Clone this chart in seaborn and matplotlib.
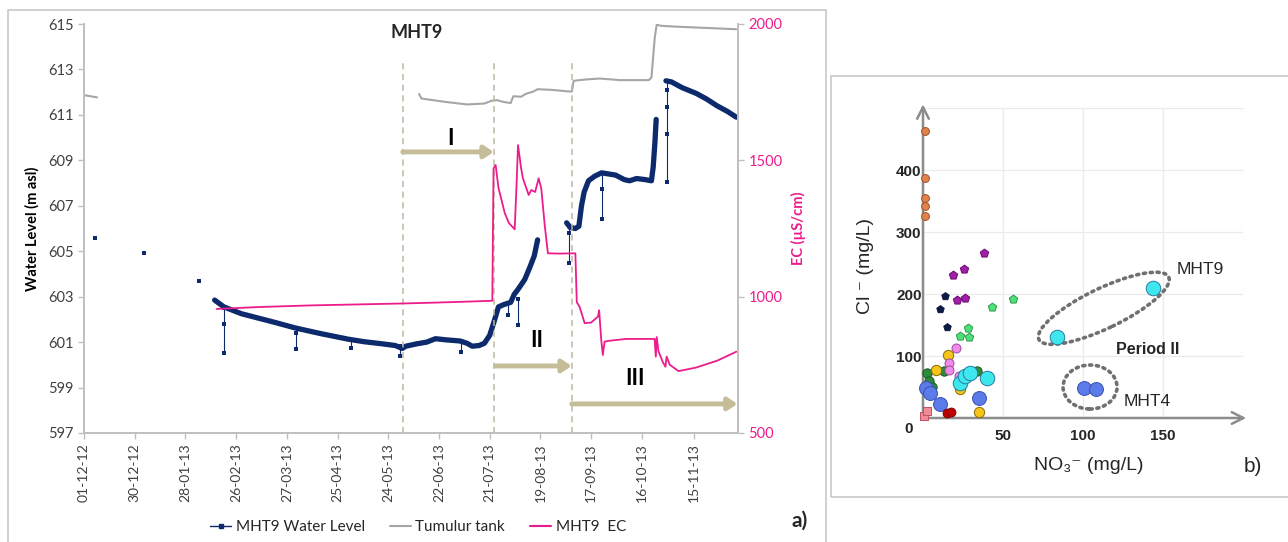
import matplotlib
matplotlib.use("Agg")
import numpy as np
import pandas as pd
import matplotlib.pyplot as plt
from matplotlib.patches import Rectangle, Ellipse
from matplotlib.lines import Line2D
from matplotlib.transforms import ScaledTranslation
import seaborn as sns

sns.set_theme(style="white")
plt.rcParams["font.family"] = ["Lato", "DejaVu Sans"]
plt.rcParams["mathtext.default"] = "regular"

START = pd.Timestamp("2012-12-01")


def to_dates(days):
    return START + pd.to_timedelta(np.asarray(days, dtype=float), unit="D")


# ---------------- Panel a data (days after 01-12-2012) ----------------
wl_manual_days = [6.4, 34.3, 66.0]
wl_manual_vals = [605.6, 604.9, 603.7]

wl_seg1_days = [74.7, 80, 90, 100, 110, 121, 135, 151, 160, 171, 178, 182, 184,
                190, 196, 201, 207, 215, 219, 222, 226, 229, 232, 234.5, 237,
                240, 244, 246, 248, 252, 255, 257.5, 259.4]
wl_seg1_vals = [602.85, 602.55, 602.25, 602.05, 601.85, 601.62, 601.38, 601.13,
                601.02, 600.92, 600.85, 600.72, 600.82, 600.92, 601.0, 601.15,
                601.1, 601.05, 600.95, 600.82, 600.85, 600.95, 601.3, 601.9,
                602.55, 602.65, 602.75, 603.1, 603.3, 603.75, 604.3, 604.8, 605.5]

wl_seg2_days = [276, 278, 281, 283, 284.5, 286, 288.5, 292, 296, 300, 304, 309,
                312, 316, 321, 324.5, 325.5, 326.5, 327.2]
wl_seg2_vals = [606.25, 606.05, 606.0, 606.1, 607.0, 607.6, 608.1, 608.3, 608.45,
                608.4, 608.35, 608.15, 608.1, 608.2, 608.15, 608.1, 608.7, 609.8, 610.8]

wl_seg3_days = [332.8, 336, 342, 350, 356, 362, 368, 373]
wl_seg3_vals = [612.5, 612.45, 612.2, 611.95, 611.7, 611.4, 611.15, 610.9]

spike_days = [80.3, 121.3, 152.8, 180.5, 215.7, 242.5, 248.3, 277.4, 296.0, 333.6]
spike_top = [602.5, 601.6, 601.1, 600.85, 601.05, 602.7, 602.9, 606.1, 608.45, 612.5]
spike_bottom = [600.5, 600.7, 600.75, 600.4, 600.55, 602.2, 601.75, 604.5, 606.4, 608.05]
spike_mid_days = [80.3, 121.3, 277.4, 296.0, 333.6, 333.6, 333.6]
spike_mid_vals = [601.8, 601.4, 605.8, 607.75, 611.35, 610.15, 612.1]

tank_segA_days = [0, 7.5]
tank_segA_vals = [611.87, 611.77]
tank_segB_days = [191.6, 193, 206.8, 219, 229, 233, 236, 240, 244, 245.5, 250,
                  252.5, 257, 259.4, 267.7, 277.4, 279, 280, 287, 295, 306.5, 323,
                  324.5, 326.4, 327.5, 330, 339.7, 373]
tank_segB_vals = [611.92, 611.72, 611.57, 611.46, 611.5, 611.62, 611.65, 611.57,
                  611.52, 611.82, 611.8, 611.92, 612.03, 612.13, 612.1, 612.03,
                  612.03, 612.5, 612.56, 612.6, 612.53, 612.53, 612.64, 614.4,
                  614.97, 614.92, 614.88, 614.77]

ec_days = [75.9, 100, 130, 160, 182, 200, 220, 233.5, 234.2, 235.4, 237, 240.6,
           243, 246.3, 247.3, 248.2, 250, 251, 254.3, 255.8, 258, 260, 261.5,
           263.5, 265.3, 272, 281.0, 281.8, 283.4, 286.3, 290, 293.9, 294.6,
           295.8, 296.7, 297.7, 300, 310, 326.3, 327.0, 327.5, 328.5, 331, 332.5,
           333.2, 335, 340, 350, 362, 373]
ec_vals = [955, 962, 968, 972, 975, 978, 982, 985, 1470, 1483, 1400, 1307,
           1270, 1247, 1400, 1556, 1470, 1434, 1373, 1391, 1384, 1434, 1397,
           1260, 1159, 1158, 1159, 980, 963, 903, 905, 927, 950, 841, 786, 835,
           838, 845, 845, 780, 852, 800, 760, 743, 780, 750, 727, 740, 765, 798]

period_bounds = [182.3, 234.3, 278.9]
period_arrows = [(182.3, 234.3, 609.37), (235.4, 278.9, 599.95), (278.9, 373.7, 598.28)]
period_labels = ["I", "II", "III"]
period_label_pos = [(209.7, 609.98), (258.9, 601.05), (314.9, 599.38)]

tick_labels = ["01-12-12", "30-12-12", "28-01-13", "26-02-13", "27-03-13", "25-04-13",
               "24-05-13", "22-06-13", "21-07-13", "19-08-13", "17-09-13", "16-10-13",
               "15-11-13"]

# ---------------- Panel b data ----------------
scatter_groups = [
    # name, x (NO3), y (Cl), marker, face, edge, size
    ("orange", [1, 1, 1, 1, 1], [463, 387, 355, 342, 326], "o", "#e0824a", "#a0522d", 32),
    ("purple", [18.5, 25.6, 38, 21, 26.2], [231, 241, 266, 190, 194], "p", "#a21fa8", "#6a0a70", 40),
    ("navy", [13.8, 10.6, 14.8], [196, 176, 147], "p", "#0a1a40", "#0a1a40", 32),
    ("lightgreen", [56, 43, 28, 23, 28.5], [192, 179, 145, 133, 131], "p", "#4fe07c", "#2a9a4a", 40),
    ("darkgreen", [2.5, 3.5, 5.4, 13, 34], [72, 60, 50, 76, 76], "o", "#2e8b3a", "#1a5a22", 45),
    ("yellow", [8, 15.8, 23, 35], [77, 101, 47, 9], "o", "#f6c51b", "#8a6a00", 55),
    ("violet", [20.4, 16.3, 16.5, 22.6], [113, 89, 77, 68], "o", "#f08ce8", "#a04aa0", 42),
    ("blue", [100.6, 108, 1.8, 4.2, 10.4, 35.3], [49, 47, 48, 41, 22.6, 32], "o", "#5b7be8", "#3a50b0", 100),
    ("cyan", [144, 84, 23, 26, 29.4, 39.8], [209, 131, 56, 67, 72, 65], "o", "#3ee6ee", "#2a7aa0", 110),
    ("red", [15.1, 17.5], [8.3, 10], "o", "#c00000", "#800000", 40),
    ("squares", [0.4, 2.3], [3, 11.5], "s", "#f08a96", "#c05060", 32),
]

NAVY = "#0c2a6c"
PINK = "#ec1c8c"
GRAY = "#a6a6a6"
TAN = "#c4bd97"

fig = plt.figure(figsize=(12.88, 5.42), dpi=100)

# panel frames
fig.add_artist(Rectangle((8 / 1288, -0.02), (826 - 8) / 1288, 1 - 10 / 542 + 0.02,
                         transform=fig.transFigure, fill=False, ec="#c8c8c8", lw=1.2))
fig.add_artist(Rectangle((831 / 1288, 1 - 497 / 542), 0.4, (497 - 76) / 542,
                         transform=fig.transFigure, fill=False, ec="#c8c8c8", lw=1.2))

# ---------------- Panel a ----------------
ax = fig.add_axes([84 / 1288, 1 - 433 / 542, (738 - 84) / 1288, (433 - 24) / 542])
ax2 = ax.twinx()

for d, v in [(tank_segA_days, tank_segA_vals), (tank_segB_days, tank_segB_vals)]:
    sns.lineplot(x=to_dates(d), y=v, ax=ax, color=GRAY, lw=1.5, estimator=None, sort=False)

spike_df = pd.DataFrame({
    "date": list(to_dates(spike_days)) * 2,
    "val": spike_top + spike_bottom,
    "spike": list(range(len(spike_days))) * 2,
})
sns.lineplot(data=spike_df, x="date", y="val", units="spike", estimator=None, sort=False,
             ax=ax, color=NAVY, lw=0.8, marker="s", markersize=3.5, markeredgewidth=0)
sns.scatterplot(x=to_dates(spike_mid_days), y=spike_mid_vals, ax=ax, color=NAVY,
                marker="s", s=10, linewidth=0)
sns.scatterplot(x=to_dates(wl_manual_days), y=wl_manual_vals, ax=ax, color=NAVY,
                marker="s", s=10, linewidth=0)
for d, v in [(wl_seg1_days, wl_seg1_vals), (wl_seg2_days, wl_seg2_vals),
             (wl_seg3_days, wl_seg3_vals)]:
    sns.lineplot(x=to_dates(d), y=v, ax=ax, color=NAVY, lw=3.8, estimator=None, sort=False,
                 solid_capstyle="round", solid_joinstyle="round")

sns.lineplot(x=to_dates(ec_days), y=ec_vals, ax=ax2, color=PINK, lw=1.3, estimator=None, sort=False)

for b in period_bounds:
    ax.axvline(to_dates([b])[0], ymin=0, ymax=(433 - 60) / 409, color="#bdb6a0",
               lw=1.1, ls=(0, (4, 3)))
for (d0, d1, y), lab, (lx, ly) in zip(period_arrows, period_labels, period_label_pos):
    ax.annotate("", xy=(to_dates([d1])[0], y), xytext=(to_dates([d0])[0], y),
                arrowprops=dict(arrowstyle="-|>,head_length=0.45,head_width=0.3",
                                color=TAN, lw=3.5, shrinkA=0, shrinkB=0),
                annotation_clip=False)
    ax.text(to_dates([lx])[0], ly, lab, ha="center", va="center", fontsize=16,
            fontweight="bold", color="black")

ax.set_xlim(START, START + pd.Timedelta(days=374))
ax.set_ylim(597, 615)
ax.set_yticks(np.arange(597, 616, 2))
ax2.set_ylim(500, 2000)
ax2.set_yticks([500, 1000, 1500, 2000])
ax.set_xticks(pd.to_datetime(tick_labels, format="%d-%m-%y"))
ax.set_xticklabels(tick_labels)
ax.tick_params(axis="x", rotation=90, labelsize=10, colors="#404040", length=4,
               width=1, color="#bfbfbf", bottom=True)
ax.tick_params(axis="y", labelsize=10.5, colors="#404040", length=4, width=1,
               color="#bfbfbf", left=True)
ax2.tick_params(axis="y", labelsize=10.5, labelcolor=PINK, length=4, width=1,
                color="#bfbfbf", right=True)
for a in (ax, ax2):
    a.spines["top"].set_visible(False)
    for s in ("left", "right", "bottom"):
        a.spines[s].set_color("#bfbfbf")
        a.spines[s].set_linewidth(1.2)
ax.set_xlabel("")
ax.set_ylabel("Water Level (m asl)", fontsize=10.5, fontweight="bold", color="black", labelpad=6)
ax2.set_ylabel("EC (µS/cm)", fontsize=10.5, fontweight="bold", color=PINK, labelpad=6)
fig.text(417 / 1288, 1 - 32 / 542, "MHT9", ha="center", va="center", fontsize=13,
         fontweight="bold")

handles = [Line2D([0], [0], color=NAVY, lw=1, marker="s", ms=3.5),
           Line2D([0], [0], color=GRAY, lw=1.5),
           Line2D([0], [0], color=PINK, lw=1.5)]
fig.legend(handles, ["MHT9 Water Level", "Tumulur tank", "MHT9  EC"], loc="center",
           bbox_to_anchor=(418 / 1288, 1 - 527 / 542), ncol=3, frameon=False,
           fontsize=11, handlelength=1.4, columnspacing=1.6, handletextpad=0.3)
fig.text(800 / 1288, 1 - 521 / 542, "a)", ha="center", va="center", fontsize=15,
         fontweight="bold")

# ---------------- Panel b ----------------
ARIAL = ["Liberation Sans", "DejaVu Sans"]
bx = fig.add_axes([923 / 1288, 1 - 418 / 542, 320 / 1288, 310 / 542])
for name, xs, ys, mk, fc, ec, sz in scatter_groups:
    sns.scatterplot(x=xs, y=ys, ax=bx, marker=mk, s=sz, color=fc, edgecolor=ec,
                    linewidth=0.7, clip_on=False, zorder=3)
bx.set_xlim(0, 200)
bx.set_ylim(0, 500)
bx.set_xticks([0, 50, 100, 150, 200])
bx.set_xticklabels(["", "50", "100", "150", ""])
bx.set_yticks([0, 100, 200, 300, 400, 500])
bx.set_yticklabels(["", "100", "200", "300", "400", ""])
for lab in bx.get_xticklabels() + bx.get_yticklabels():
    lab.set_family(ARIAL)
    lab.set_fontweight("bold")
    lab.set_fontsize(11)
bx.tick_params(axis="x", length=0, pad=8)
bx.tick_params(axis="y", length=0, pad=1)
bx.grid(True, color="#ebebeb", lw=0.9)
for s in bx.spines.values():
    s.set_visible(False)
bx.set_xlabel("")
bx.set_ylabel("")
bx.annotate("", xy=(202, 0), xytext=(0, 0), annotation_clip=False,
            arrowprops=dict(arrowstyle="->,head_length=0.7,head_width=0.35",
                            color="#8c8c8c", lw=1.8, shrinkA=0, shrinkB=0), zorder=2)
bx.annotate("", xy=(0, 506), xytext=(0, 0), annotation_clip=False,
            arrowprops=dict(arrowstyle="->,head_length=0.7,head_width=0.35",
                            color="#8c8c8c", lw=1.8, shrinkA=0, shrinkB=0), zorder=2)
bx.text(-9, -18, "0", ha="center", va="center", fontsize=11, fontweight="bold",
        family=ARIAL)

# dotted ellipses (sizes in inches, centred on data points)
for (cx, cy), w, h, ang in [((113, 177), 1.44, 0.40, 25.7), ((104.4, 50), 0.54, 0.44, 0)]:
    e = Ellipse((0, 0), w, h, angle=ang, fill=False, ec="#707070", lw=2.6,
                ls=(0, (0.6, 1.3)), capstyle="round",
                transform=fig.dpi_scale_trans + ScaledTranslation(cx, cy, bx.transData))
    bx.add_artist(e)

bx.text(173, 240, "MHT9", ha="center", va="center", fontsize=12.5, family=ARIAL)
bx.text(140.6, 110, "Period II", ha="center", va="center", fontsize=11.5,
        fontweight="bold", family=ARIAL)
bx.text(140, 26, "MHT4", ha="center", va="center", fontsize=12.5, family=ARIAL)

fig.text(1089 / 1288, 1 - 465 / 542, "NO\u2083\u207b (mg/L)", ha="center", va="center",
         fontsize=14, family=ARIAL)
fig.text(865 / 1288, 1 - 266 / 542, "Cl \u207b (mg/L)", ha="center", va="center",
         fontsize=14, family=ARIAL, rotation=90)
fig.text(1253 / 1288, 1 - 467 / 542, "b)", ha="center", va="center", fontsize=15,
         family=ARIAL)

fig.savefig("out.png", dpi=100)
